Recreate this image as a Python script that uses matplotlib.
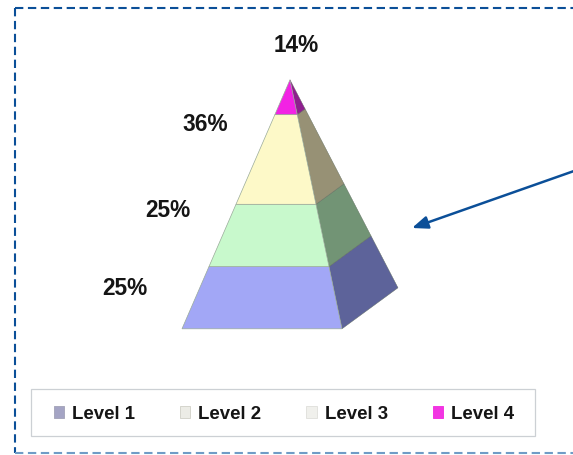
import matplotlib
matplotlib.use("Agg")
import matplotlib.pyplot as plt
from matplotlib.patches import Patch, Polygon, Rectangle

levels = ["Level 1", "Level 2", "Level 3", "Level 4"]
values = [25, 25, 36, 14]
front_colors = ["#a2a7f6", "#c8f9cc", "#fdf9c8", "#f222e4"]
side_colors = ["#5a6098", "#6f9272", "#958f72", "#8c1a8c"]
legend_colors = ["#a4a4c4", "#ecece6", "#f0f0ec", "#f235e2"]
legend_edges = ["#a8a8bc", "#d4d4cc", "#e2e2de", "#f235e2"]

W, H = 573, 456
BLUE = "#0b4f98"
plt.rcParams["font.family"] = ["Liberation Sans", "DejaVu Sans"]

fig = plt.figure(figsize=(W / 100, H / 100), dpi=100)
ax = fig.add_axes([0, 0, 1, 1])
ax.set_xlim(0, W)
ax.set_ylim(H, 0)
ax.axis("off")

# outer dashed frame (runs off the right side of the picture)
ax.plot([15, 15], [8.5, 454.5], color=BLUE, lw=1.5, ls=(0, (4, 2.2)))
ax.plot([15, W], [8.5, 8.5], color=BLUE, lw=1.5, ls=(0, (4, 2.2)))
ax.plot([15, W], [454.5, 454.5], color="#6f9cc6", lw=1.5, ls=(0, (4, 2.2)))

# pyramid geometry
apex = (290, 80.8)
base_left = (182, 329.8)
base_right = (342, 329.8)
base_back = (398, 288.8)


def along(corner, frac):
    return (apex[0] + (corner[0] - apex[0]) * frac,
            apex[1] + (corner[1] - apex[1]) * frac)


total = sum(values)
bottom = 1.0
for value, front, side in zip(values, front_colors, side_colors):
    top = bottom - value / total
    side_pts = [along(base_right, bottom), along(base_back, bottom),
                along(base_back, top), along(base_right, top)]
    front_pts = [along(base_left, bottom), along(base_right, bottom),
                 along(base_right, top), along(base_left, top)]
    ax.add_patch(Polygon(side_pts, closed=True, fc=side, ec="#5d6a5d", lw=0.3, alpha=0.98))
    ax.add_patch(Polygon(front_pts, closed=True, fc=front, ec="#9aab9a", lw=0.5))
    bottom = top

# data labels
label_pos = [(124.5, 288.5), (167.5, 210.5), (205.5, 124.5), (296.5, 45.5)]
for value, (x, y) in zip(values, label_pos):
    ax.text(x, y, f"{value}%", ha="center", va="center",
            fontsize=16.3, fontweight="bold", color="#151515")

# arrow
ax.annotate("", xy=(412, 229), xytext=(574, 172),
            arrowprops=dict(arrowstyle="-|>,head_length=0.95,head_width=0.38",
                            color=BLUE, lw=1.8, shrinkA=0, shrinkB=0))

# legend
handles = [Patch(fc=c, ec=e, lw=0.7) for c, e in zip(legend_colors, legend_edges)]
leg = ax.legend(handles, levels, ncol=4, loc="center",
                bbox_to_anchor=(284 / W, 1 - 415 / H), bbox_transform=ax.transAxes,
                prop=dict(size=13.4, weight="bold"), frameon=True, fancybox=False,
                handlelength=0.56, handleheight=0.56, handletextpad=0.42,
                columnspacing=2.42, borderpad=0.0, borderaxespad=0)
leg.get_frame().set_visible(False)
for t in leg.get_texts():
    t.set_color("#151515")
ax.add_patch(Rectangle((31, 390.5), 504, 47, fc="none", ec="#ccd0d4", lw=0.9))

fig.savefig("out.png", dpi=100)
